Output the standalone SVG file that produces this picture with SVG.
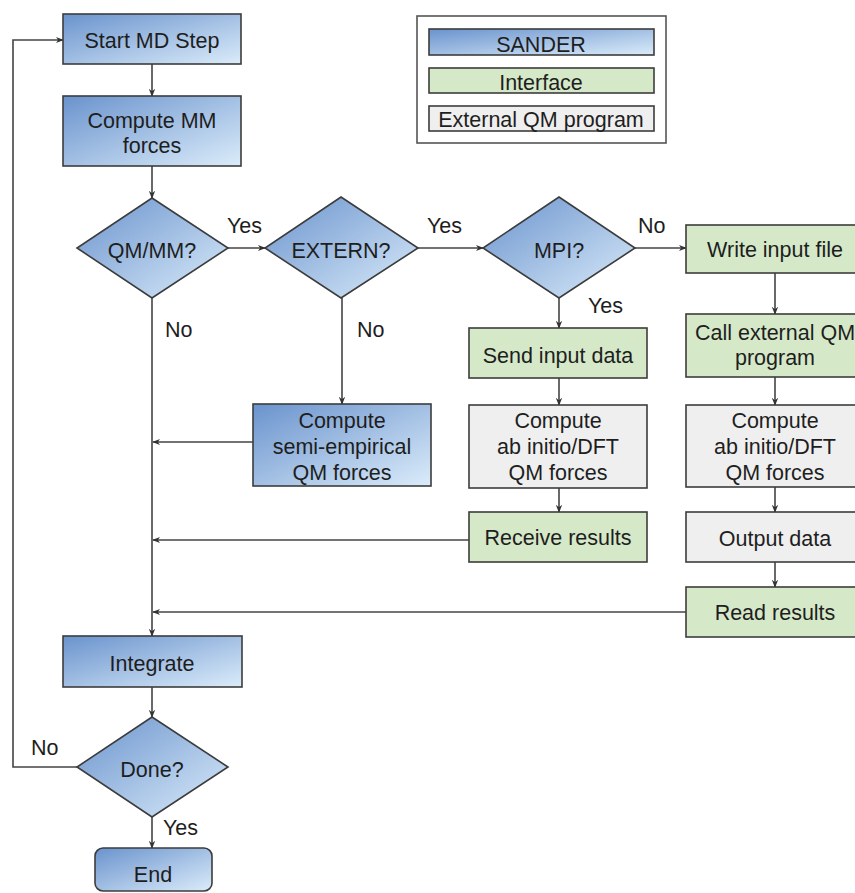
<svg xmlns="http://www.w3.org/2000/svg" width="855" height="893" viewBox="0 0 855 893">
<defs>
<linearGradient id="blue" x1="0" y1="0" x2="1" y2="1">
<stop offset="0" stop-color="#6a93cd"/>
<stop offset="1" stop-color="#dbecfa"/>
</linearGradient>
<marker id="arr" viewBox="0 0 10 10" refX="9" refY="5" markerWidth="8" markerHeight="8" orient="auto" markerUnits="userSpaceOnUse">
<path d="M0,1 L10,5 L0,9 L3,5 Z" fill="#333"/>
</marker>
<style>
.b{fill:url(#blue);stroke:#3c3c3c;stroke-width:1.6}
.g{fill:#d5e9c9;stroke:#3c3c3c;stroke-width:1.6}
.x{fill:#efefef;stroke:#3c3c3c;stroke-width:1.6}
.t{font-family:"Liberation Sans",Arial,sans-serif;font-size:21.5px;fill:#1e1e1e;text-anchor:middle}
.l{font-family:"Liberation Sans",Arial,sans-serif;font-size:21.5px;fill:#1e1e1e}
.c{fill:none;stroke:#444;stroke-width:1.6;marker-end:url(#arr)}
.n{fill:none;stroke:#444;stroke-width:1.6}
</style>
</defs>
<rect width="855" height="893" fill="#fff"/>

<g id="legend">
<rect x="417" y="16" width="249" height="127" fill="#fff" stroke="#555" stroke-width="1.6"/>
<rect x="429" y="29" width="225" height="26" class="b"/>
<text x="541" y="52" class="t">SANDER</text>
<rect x="429" y="68" width="225" height="25" class="g"/>
<text x="541" y="90" class="t">Interface</text>
<rect x="429" y="106" width="225" height="25" class="x"/>
<text x="541" y="127" class="t">External QM program</text>
</g>

<g id="connectors">
<line x1="152" y1="64" x2="152" y2="96" class="c"/>
<line x1="152" y1="166" x2="152" y2="198" class="c"/>
<line x1="228" y1="248" x2="265" y2="248" class="c"/>
<line x1="418" y1="248" x2="483" y2="248" class="c"/>
<line x1="635" y1="248" x2="686" y2="248" class="c"/>
<line x1="559" y1="298" x2="559" y2="328" class="c"/>
<line x1="775" y1="273" x2="775" y2="314" class="c"/>
<line x1="342" y1="298" x2="342" y2="404" class="c"/>
<line x1="559" y1="378" x2="559" y2="405" class="c"/>
<line x1="775" y1="377" x2="775" y2="405" class="c"/>
<line x1="559" y1="488" x2="559" y2="512" class="c"/>
<line x1="775" y1="487" x2="775" y2="512" class="c"/>
<line x1="775" y1="562" x2="775" y2="587" class="c"/>
<line x1="253" y1="442" x2="153" y2="442" class="c"/>
<line x1="469" y1="540" x2="153" y2="540" class="c"/>
<line x1="686" y1="612" x2="153" y2="612" class="c"/>
<line x1="152" y1="298" x2="152" y2="636" class="c"/>
<line x1="152" y1="687" x2="152" y2="717" class="c"/>
<line x1="152" y1="817" x2="152" y2="848" class="c"/>
<polyline points="77,767 13,767 13,40 63,40" class="c"/>
</g>

<g id="labels">
<text x="227" y="233" class="l">Yes</text>
<text x="427" y="233" class="l">Yes</text>
<text x="638" y="233" class="l">No</text>
<text x="588" y="313" class="l">Yes</text>
<text x="165" y="337" class="l">No</text>
<text x="357" y="337" class="l">No</text>
<text x="31" y="755" class="l">No</text>
<text x="163" y="835" class="l">Yes</text>
</g>

<g id="start"><rect x="63" y="14" width="178" height="50" class="b"/><text x="152" y="48" class="t">Start MD Step</text></g>
<g id="mm"><rect x="63" y="96" width="178" height="70" class="b"/><text x="152" y="128" class="t">Compute MM</text><text x="152" y="153" class="t">forces</text></g>
<g id="qmmm"><polygon points="152,198 228,248 152,298 77,248" class="b"/><text x="152" y="258" class="t">QM/MM?</text></g>
<g id="extern"><polygon points="341,197 418,248 341,298 265,248" class="b"/><text x="341" y="258" class="t">EXTERN?</text></g>
<g id="mpi"><polygon points="559,197 635,248 559,298 483,248" class="b"/><text x="559" y="258" class="t">MPI?</text></g>
<g id="write"><rect x="686" y="225" width="180" height="48" class="g"/><text x="775" y="257" class="t">Write input file</text></g>
<g id="send"><rect x="469" y="328" width="178" height="50" class="g"/><text x="558" y="363" class="t">Send input data</text></g>
<g id="call"><rect x="686" y="314" width="180" height="63" class="g"/><text x="775" y="340" class="t">Call external QM</text><text x="775" y="365" class="t">program</text></g>
<g id="semi"><rect x="253" y="404" width="178" height="82" class="b"/><text x="342" y="428" class="t">Compute</text><text x="342" y="454" class="t">semi-empirical</text><text x="342" y="480" class="t">QM forces</text></g>
<g id="abmid"><rect x="469" y="405" width="178" height="83" class="x"/><text x="558" y="428" class="t">Compute</text><text x="558" y="454" class="t">ab initio/DFT</text><text x="558" y="480" class="t">QM forces</text></g>
<g id="abright"><rect x="686" y="405" width="180" height="82" class="x"/><text x="775" y="428" class="t">Compute</text><text x="775" y="454" class="t">ab initio/DFT</text><text x="775" y="480" class="t">QM forces</text></g>
<g id="receive"><rect x="469" y="512" width="178" height="50" class="g"/><text x="558" y="545" class="t">Receive results</text></g>
<g id="output"><rect x="686" y="512" width="180" height="50" class="x"/><text x="775" y="546" class="t">Output data</text></g>
<g id="read"><rect x="686" y="587" width="180" height="50" class="g"/><text x="775" y="620" class="t">Read results</text></g>
<g id="integrate"><rect x="63" y="636" width="179" height="51" class="b"/><text x="152" y="671" class="t">Integrate</text></g>
<g id="done"><polygon points="152,717 228,767 152,817 77,767" class="b"/><text x="152" y="777" class="t">Done?</text></g>
<g id="end"><rect x="95" y="848" width="117" height="43" rx="8" class="b"/><text x="153" y="882" class="t">End</text></g>
</svg>
